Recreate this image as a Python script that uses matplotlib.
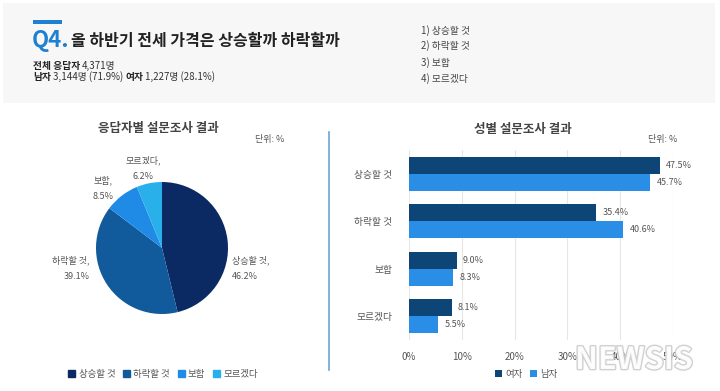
import numpy as np
import matplotlib
matplotlib.use('Agg')
import matplotlib.pyplot as plt
import matplotlib.patheffects as pe
from matplotlib.patches import Rectangle

plt.rcParams['font.family'] = ['Noto Sans CJK KR', 'DejaVu Sans']

# data
categories = ['상승할 것', '하락할 것', '보합', '모르겠다']
overall = [46.2, 39.1, 8.5, 6.2]
female = [47.5, 35.4, 9.0, 8.1]
male = [45.7, 40.6, 8.3, 5.5]
xticks = [0, 10, 20, 30, 40, 50]

pie_colors = ['#0b2a63', '#115a9c', '#1f8be6', '#29b0ea']
female_color = '#0d4577'
male_color = '#2a8ee6'
text_gray = '#555555'

W, H = 720, 391
fig = plt.figure(figsize=(W / 100, H / 100), dpi=100)
fig.patch.set_facecolor('white')
renderer = fig.canvas.get_renderer()


def fx(px):
    return px / W


def fy(py):
    return 1 - py / H


def text_run(x0, yy, parts):
    # place bold / normal pieces one after another
    x = x0
    for s, bold in parts:
        t = fig.text(fx(x), fy(yy), s, fontsize=7, va='center', ha='left',
                     fontweight='bold' if bold else 'normal',
                     color='#222222' if bold else '#333333')
        x += t.get_window_extent(renderer).width + 2


# header box
fig.patches.append(Rectangle((fx(3), fy(103)), fx(712), 100 / H,
                             transform=fig.transFigure, facecolor='#f7f7f7',
                             edgecolor='none', zorder=0))
fig.patches.append(Rectangle((fx(33), fy(23.5)), fx(29), 3 / H,
                             transform=fig.transFigure, facecolor='#1f7fd0',
                             edgecolor='none'))
fig.text(fx(32), fy(41), 'Q4.', color='#1f7fd0', fontsize=16, fontweight='bold',
         va='center', ha='left')
fig.text(fx(71), fy(41), '올 하반기 전세 가격은 상승할까 하락할까', color='#222222',
         fontsize=11.5, fontweight='bold', va='center', ha='left')
text_run(33, 66, [('전체 응답자', True), ('4,371명', False)])
text_run(33, 77, [('남자', True), ('3,144명 (71.9%)', False),
                  ('여자', True), ('1,227명 (28.1%)', False)])
for i, (c, yy) in enumerate(zip(categories, [31, 46, 63, 79])):
    fig.text(fx(421), fy(yy), f'{i + 1}) {c}', fontsize=7, va='center', color='#444444')

# divider
fig.add_artist(plt.Line2D([fx(329), fx(329)], [fy(132), fy(370)],
                          transform=fig.transFigure, color='#6aa6d6', lw=1.2))

# pie chart
cx, cy, r = 162, 248, 66
ax1 = fig.add_axes([fx(cx - r), fy(cy + r), 2 * r / W, 2 * r / H])
ax1.pie(overall, colors=pie_colors, startangle=90, counterclock=False,
        wedgeprops=dict(linewidth=0))
ax1.set_xlim(-1, 1)
ax1.set_ylim(-1, 1)
ax1.set_aspect('auto')
ax1.axis('off')

fig.text(fx(158), fy(128), '응답자별 설문조사 결과', fontsize=9, fontweight='bold',
         ha='center', va='center', color='#444444')
fig.text(fx(270), fy(140), '단위: %', fontsize=6.5, ha='center', va='center', color=text_gray)

label_pos = [(232, 268, 'left'), (90, 268, 'right'), (103, 188, 'center'), (143, 168, 'center')]
for (px, py, ha), c, v in zip(label_pos, categories, overall):
    fig.text(fx(px), fy(py), f'{c},\n{v}%', fontsize=6.5, ha=ha, va='center',
             color=text_gray, linespacing=2.0)

handles = [Rectangle((0, 0), 1, 1, color=c) for c in pie_colors]
fig.legend(handles, categories, loc='center', bbox_to_anchor=(fx(163), fy(374)),
           ncol=4, frameon=False, fontsize=6.8, handlelength=0.75, handleheight=0.75,
           handletextpad=0.35, columnspacing=0.8, labelcolor=text_gray)

# bar chart
ax2 = fig.add_axes([fx(409), fy(340), fx(673 - 409), 190 / H])
y = np.arange(len(categories))
h = 0.36
ax2.barh(y - h / 2, female, height=h, color=female_color, label='여자')
ax2.barh(y + h / 2, male, height=h, color=male_color, label='남자')
for i in range(len(categories)):
    ax2.text(female[i] + 1.2, y[i] - h / 2, f'{female[i]:.1f}%', fontsize=6.5,
             va='center', ha='left', color=text_gray)
    ax2.text(male[i] + 1.2, y[i] + h / 2, f'{male[i]:.1f}%', fontsize=6.5,
             va='center', ha='left', color=text_gray)
ax2.set_xlim(0, 50)
ax2.set_ylim(3.5, -0.5)
ax2.set_xticks(xticks)
ax2.set_xticklabels([f'{t}%' for t in xticks])
ax2.set_yticks(y)
ax2.set_yticklabels(categories)
ax2.tick_params(axis='both', length=0, labelsize=7, colors=text_gray)
ax2.tick_params(axis='x', pad=9)
ax2.tick_params(axis='y', pad=12)
ax2.grid(axis='x', color='#e6e6e6', lw=0.8)
ax2.set_axisbelow(True)
for s in ax2.spines.values():
    s.set_visible(False)

fig.text(fx(523), fy(130), '성별 설문조사 결과', fontsize=9, fontweight='bold',
         ha='center', va='center', color='#444444')
fig.text(fx(663), fy(140), '단위: %', fontsize=6.5, ha='center', va='center', color=text_gray)
fig.legend(*ax2.get_legend_handles_labels(), loc='center', bbox_to_anchor=(fx(526), fy(374)),
           ncol=2, frameon=False, fontsize=6.8, handlelength=0.75, handleheight=0.75,
           handletextpad=0.35, columnspacing=0.8, labelcolor=text_gray)

# watermark
fig.text(fx(634), fy(360), 'NEWSIS', fontsize=22, fontweight='bold', style='italic',
         ha='center', va='center', color='white', alpha=0.9,
         path_effects=[pe.withStroke(linewidth=2, foreground='#cccccc')])

fig.savefig('out.png', dpi=100)
